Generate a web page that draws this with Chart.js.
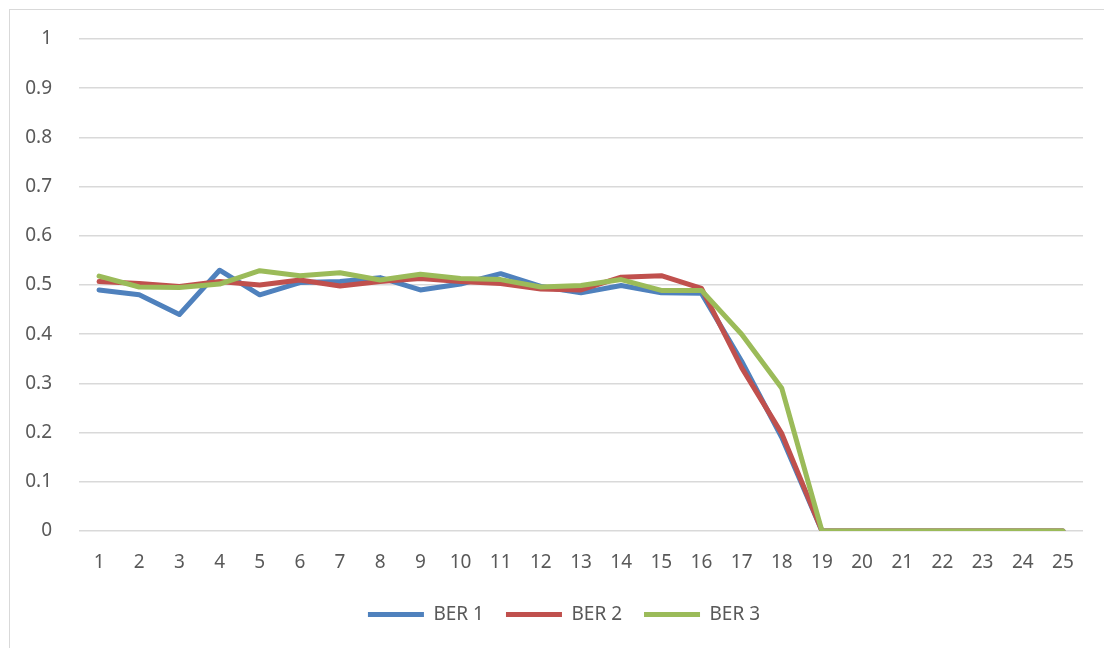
<!DOCTYPE html>
<html>
<head>
<meta charset="utf-8">
<script src="https://cdn.jsdelivr.net/npm/chart.js@4"></script>
<style>
  html, body { margin: 0; padding: 0; background: #fff; overflow: hidden; }
  #frame { position: absolute; left: 9px; top: 9px; width: 1110px; height: 660px; border: 1px solid #d9d9d9; }
  #wrap { position: absolute; left: 0; top: 0; width: 1128px; height: 648px; }
</style>
</head>
<body>
<div id="frame"></div>
<div id="wrap"><canvas id="chart" width="1128" height="648"></canvas></div>
<script>
// x categories
const labels = ["1","2","3","4","5","6","7","8","9","10","11","12","13","14","15","16","17","18","19","20","21","22","23","24","25"];

// series values
const ber1 = [0.490, 0.480, 0.440, 0.530, 0.480, 0.505, 0.507, 0.515, 0.490, 0.502, 0.523, 0.497, 0.484, 0.499, 0.484, 0.483, 0.345, 0.190, 0, 0, 0, 0, 0, 0, 0];
const ber2 = [0.507, 0.503, 0.497, 0.507, 0.500, 0.510, 0.498, 0.507, 0.513, 0.507, 0.503, 0.492, 0.490, 0.516, 0.519, 0.493, 0.332, 0.198, 0, 0, 0, 0, 0, 0, 0];
const ber3 = [0.518, 0.496, 0.495, 0.502, 0.529, 0.519, 0.525, 0.510, 0.522, 0.513, 0.511, 0.496, 0.499, 0.511, 0.489, 0.489, 0.400, 0.290, 0, 0, 0, 0, 0, 0, 0];

const yTicks = [0, 0.1, 0.2, 0.3, 0.4, 0.5, 0.6, 0.7, 0.8, 0.9, 1];

const textColor = "#595959";
const gridColor = "#d9d9d9";
const font = { family: "'Noto Sans', sans-serif", size: 19 };

// later series are painted on top, like the original
const line = (label, data, color, order) => ({
    label: label,
    data: data,
    order: order,
    borderColor: color,
    backgroundColor: color,
    borderWidth: 5,
    borderCapStyle: "round",
    borderJoinStyle: "round",
    pointRadius: 0,
    pointHoverRadius: 0,
    tension: 0,
    fill: false
});

new Chart(document.getElementById("chart"), {
    type: "line",
    data: {
        labels: labels,
        datasets: [
            line("BER 1", ber1, "#4f81bd", 3),
            line("BER 2", ber2, "#c0504d", 2),
            line("BER 3", ber3, "#9bbb59", 1)
        ]
    },
    options: {
        responsive: false,
        animation: false,
        layout: { padding: { left: 0, right: 0, top: 39, bottom: 14 } },
        scales: {
            x: {
                offset: true,
                grid: { display: false, drawTicks: false },
                border: { display: false },
                ticks: { color: textColor, font: font, padding: 20, maxRotation: 0, autoSkip: false },
                afterFit: scale => { scale.height = 52; }
            },
            y: {
                min: 0,
                max: 1,
                afterBuildTicks: scale => { scale.ticks = yTicks.map(v => ({ value: v })); },
                grid: { color: gridColor, lineWidth: 1.5, drawTicks: false },
                border: { display: false },
                ticks: {
                    color: textColor,
                    font: font,
                    padding: 27,
                    callback: v => String(Math.round(v * 10) / 10)
                },
                afterFit: scale => { scale.width = 79; }
            },
            // empty right margin so the legend centres like the original
            spacer: {
                type: "linear",
                position: "right",
                grid: { display: false, drawTicks: false },
                border: { display: false },
                ticks: { display: false },
                afterFit: scale => { scale.width = 45; }
            }
        },
        plugins: {
            legend: {
                position: "bottom",
                labels: {
                    color: textColor,
                    font: font,
                    usePointStyle: true,
                    pointStyle: "line",
                    pointStyleWidth: 56,
                    padding: 22,
                    sort: (a, b) => a.datasetIndex - b.datasetIndex
                }
            },
            tooltip: { enabled: false }
        }
    }
});
</script>
</body>
</html>
